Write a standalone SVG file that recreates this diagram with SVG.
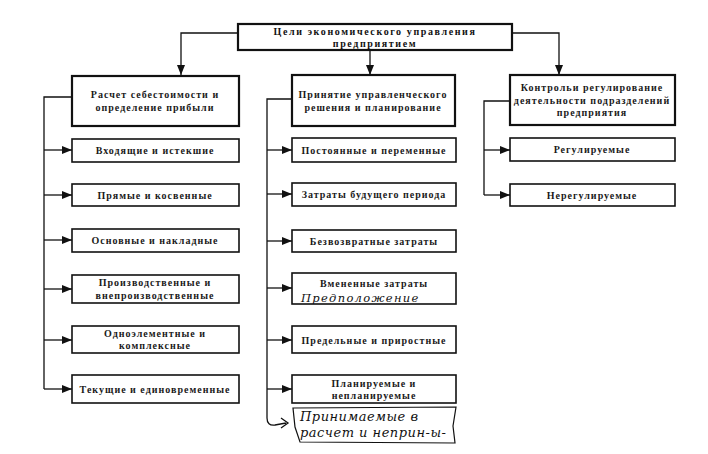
<svg xmlns="http://www.w3.org/2000/svg" width="708" height="454" viewBox="0 0 708 454">
<defs>
<marker id="ar" viewBox="0 0 10 8" refX="10" refY="4" markerWidth="10" markerHeight="8" markerUnits="userSpaceOnUse" orient="auto">
<path d="M0,0 L10,4 L0,8 Z" fill="#111"/>
</marker>
<style>
.bx{fill:#fff;stroke:#111;stroke-width:1.6}
.bm{fill:#fff;stroke:#111;stroke-width:2.2}
.t{font-family:"Liberation Serif","Times New Roman",serif;font-size:10px;font-weight:bold;fill:#1a1a1a;text-anchor:middle;letter-spacing:1px}
.tt{font-family:"Liberation Serif","Times New Roman",serif;font-size:10px;font-weight:bold;fill:#111;text-anchor:middle;letter-spacing:1.6px}
.c{fill:none;stroke:#111;stroke-width:1.3}
.h{font-family:"DejaVu Serif",serif;font-style:italic;font-size:13px;fill:#111;letter-spacing:0.5px}
</style>
</defs>
<rect width="708" height="454" fill="#fff"/>
<g id="connectors">
<path class="c" d="M238,33 H181 V75" marker-end="url(#ar)"/>
<path class="c" d="M370,50 V75" marker-end="url(#ar)"/>
<path class="c" d="M512,33 H559 V75" marker-end="url(#ar)"/>
<path class="c" d="M72,97 H44 V389"/>
<path class="c" d="M44,150 H72" marker-end="url(#ar)"/>
<path class="c" d="M44,195 H72" marker-end="url(#ar)"/>
<path class="c" d="M44,240 H72" marker-end="url(#ar)"/>
<path class="c" d="M44,289 H72" marker-end="url(#ar)"/>
<path class="c" d="M44,340 H72" marker-end="url(#ar)"/>
<path class="c" d="M44,389 H72" marker-end="url(#ar)"/>
<path class="c" d="M292,99 H267 V389"/>
<path class="c" d="M267,150 H292" marker-end="url(#ar)"/>
<path class="c" d="M267,194 H292" marker-end="url(#ar)"/>
<path class="c" d="M267,241 H292" marker-end="url(#ar)"/>
<path class="c" d="M267,288 H292" marker-end="url(#ar)"/>
<path class="c" d="M267,340 H292" marker-end="url(#ar)"/>
<path class="c" d="M267,389 H292" marker-end="url(#ar)"/>
<path class="c" d="M267,389 V418 Q267,426 275,425 L286,423 M281,418 L288,423 L281,428"/>
<path class="c" d="M510,101 H484 V195"/>
<path class="c" d="M484,150 H510" marker-end="url(#ar)"/>
<path class="c" d="M484,195 H510" marker-end="url(#ar)"/>
</g>
<g id="top">
<rect class="bm" x="238" y="24" width="274" height="26"/>
<text class="tt" x="375" y="35">Цели экономического управления</text>
<text class="tt" x="375" y="47">предприятием</text>
</g>
<g id="n-left">
<rect class="bm" x="72" y="76" width="167" height="50"/>
<text class="t" x="155" y="98">Расчет себестоимости и</text>
<text class="t" x="155" y="111">определение прибыли</text>
</g>
<g id="n-center">
<rect class="bm" x="292" y="75" width="163" height="51"/>
<text class="t" x="373" y="98">Принятие управленческого</text>
<text class="t" x="373" y="111">решения и планирование</text>
</g>
<g id="n-right">
<rect class="bm" x="510" y="75" width="165" height="50"/>
<text class="t" x="592" y="91">Контрольи регулирование</text>
<text class="t" x="592" y="104">деятельности подразделений</text>
<text class="t" x="592" y="116">предприятия</text>
</g>
<g id="l1"><rect class="bx" x="72" y="139" width="167" height="23"/><text class="t" x="155" y="154">Входящие и истекшие</text></g>
<g id="l2"><rect class="bx" x="72" y="184" width="167" height="22"/><text class="t" x="155" y="199">Прямые и косвенные</text></g>
<g id="l3"><rect class="bx" x="72" y="229" width="167" height="23"/><text class="t" x="155" y="244">Основные и накладные</text></g>
<g id="l4"><rect class="bx" x="72" y="275" width="167" height="28"/><text class="t" x="155" y="286">Производственные и</text><text class="t" x="155" y="299">внепроизводственные</text></g>
<g id="l5"><rect class="bx" x="72" y="326" width="167" height="27"/><text class="t" x="155" y="337">Одноэлементные и</text><text class="t" x="155" y="349">комплексные</text></g>
<g id="l6"><rect class="bx" x="72" y="375" width="167" height="28"/><text class="t" x="155" y="393">Текущие и единовременные</text></g>
<g id="c1"><rect class="bx" x="292" y="138" width="164" height="24"/><text class="t" x="374" y="154">Постоянные и переменные</text></g>
<g id="c2"><rect class="bx" x="292" y="183" width="164" height="23"/><text class="t" x="374" y="198">Затраты будущего периода</text></g>
<g id="c3"><rect class="bx" x="292" y="230" width="164" height="22"/><text class="t" x="374" y="245">Безвозвратные затраты</text></g>
<g id="c4"><rect class="bx" x="292" y="273" width="164" height="31"/><text class="t" x="374" y="287">Вмененные затраты</text><text class="h" x="301" y="302" style="font-size:11.5px;letter-spacing:1.3px">Предположение</text></g>
<g id="c5"><rect class="bx" x="292" y="326" width="164" height="27"/><text class="t" x="374" y="344">Предельные и приростные</text></g>
<g id="c6"><rect class="bx" x="292" y="375" width="164" height="28"/><text class="t" x="374" y="387">Планируемые и</text><text class="t" x="374" y="399">непланируемые</text></g>
<g id="c7">
<path fill="none" stroke="#111" stroke-width="1.2" d="M293,408 L456,407 L453,426 L455,443 L300,442 L295,427 Z"/>
<text class="h" x="300" y="421">Принимаемые в</text>
<text class="h" x="300" y="437">расчет и неприн-ы-</text>
</g>
<g id="r1"><rect class="bx" x="510" y="138" width="165" height="23"/><text class="t" x="592" y="153">Регулируемые</text></g>
<g id="r2"><rect class="bx" x="510" y="184" width="165" height="22"/><text class="t" x="592" y="199">Нерегулируемые</text></g>
</svg>
